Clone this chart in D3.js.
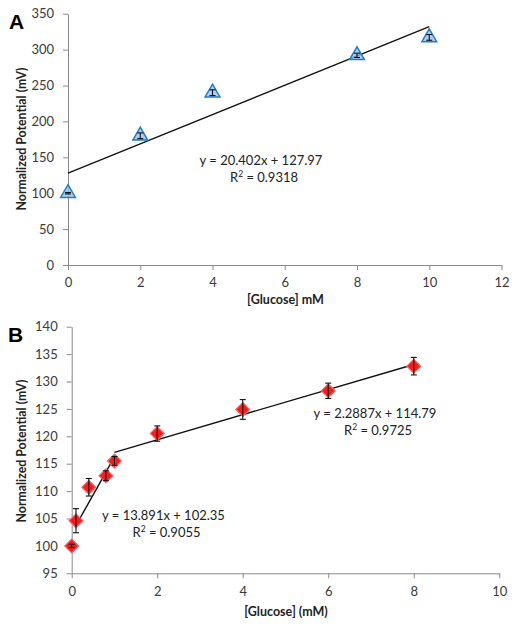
<!DOCTYPE html>
<html><head><meta charset="utf-8">
<script src="https://cdn.jsdelivr.net/npm/d3@7"></script>
<style>
body{margin:0;background:#fff;}
text{font-family:Lato,"Open Sans",sans-serif;}
</style></head>
<body>
<svg id="c" width="518" height="630"></svg>
<script>
// Panel A data
const aGlucose = [0, 2, 4, 8, 10];
const aPotential = [100, 180, 240, 292, 317];
const aError = [1, 4, 4, 3, 4];
const aXTicks = [0, 2, 4, 6, 8, 10, 12];
const aYTicks = [0, 50, 100, 150, 200, 250, 300, 350];
const aFit = {slope: 20.402, intercept: 127.97, from: 0, to: 10, eq: "y = 20.402x + 127.97", r2: "0.9318"};

// Panel B data
const bGlucose = [0, 0.1, 0.4, 0.8, 1, 2, 4, 6, 8];
const bPotential = [100, 104.6, 110.7, 112.8, 115.5, 120.5, 124.9, 128.3, 132.8];
const bError = [0.3, 2.2, 1.6, 0.9, 0.8, 1.4, 1.8, 1.4, 1.6];
const bXTicks = [0, 2, 4, 6, 8, 10];
const bYTicks = [95, 100, 105, 110, 115, 120, 125, 130, 135, 140];
const bFit1 = {slope: 13.891, intercept: 102.35, from: 0.1, to: 1, eq: "y = 13.891x + 102.35", r2: "0.9055"};
const bFit2 = {slope: 2.2887, intercept: 114.79, from: 1, to: 8, eq: "y = 2.2887x + 114.79", r2: "0.9725"};

const svg = d3.select("#c");
const axisColor = "#8a8a8a";
const textColor = "#3a3a3a";

function panel(cfg) {
  const g = svg.append("g");
  const x = d3.scaleLinear().domain(cfg.xDomain).range([cfg.left, cfg.right]);
  const y = d3.scaleLinear().domain(cfg.yDomain).range([cfg.bottom, cfg.top]);

  const xa = g.append("g").attr("transform", `translate(0,${cfg.bottom})`)
    .call(d3.axisBottom(x).tickValues(cfg.xTicks).tickSize(5).tickSizeOuter(0).tickPadding(8).tickFormat(d3.format("d")));
  const ya = g.append("g").attr("transform", `translate(${cfg.left},0)`)
    .call(d3.axisLeft(y).tickValues(cfg.yTicks).tickSize(5).tickSizeOuter(0).tickPadding(9).tickFormat(d3.format("d")));
  [xa, ya].forEach(a => {
    a.select(".domain").attr("stroke", axisColor);
    a.selectAll(".tick line").attr("stroke", axisColor);
    a.selectAll(".tick text").attr("fill", textColor).style("font-size", "13px").style("font-family", "Lato");
  });

  // axis titles
  g.append("text").attr("x", cfg.xTitleX).attr("y", cfg.xTitleY).attr("text-anchor", "middle")
    .style("font-size", "12.5px").style("font-weight", "bold").attr("fill", "#222").text(cfg.xTitle);
  g.append("text").attr("transform", `translate(${cfg.yTitleX},${cfg.yTitleY}) rotate(-90)`)
    .attr("text-anchor", "middle").style("font-size", "12.3px").style("font-weight", "bold").attr("fill", "#222").text(cfg.yTitle);
  // panel letter
  g.append("text").attr("x", cfg.letterX).attr("y", cfg.letterY)
    .style("font-size", "21px").style("font-weight", "bold").style("font-family", "Liberation Sans, Arial").attr("fill", "#000").text(cfg.letter);

  // fits
  cfg.fits.forEach(f => {
    g.append("line")
      .attr("x1", x(f.from)).attr("y1", y(f.slope * f.from + f.intercept))
      .attr("x2", x(f.to)).attr("y2", y(f.slope * f.to + f.intercept))
      .attr("stroke", "#111").attr("stroke-width", 1.4);
    const t = g.append("text").attr("text-anchor", "middle").attr("fill", "#222").style("font-size", "13px");
    t.append("tspan").attr("x", f.tx).attr("y", f.ty).text(f.eq);
    const t2 = t.append("tspan").attr("x", f.tx + 3).attr("y", f.ty + 16.5);
    t2.text("R");
    t2.append("tspan").attr("dy", -5).style("font-size", "8.5px").text("2");
    t2.append("tspan").attr("dy", 5).text(" = " + f.r2);
  });

  // markers
  const pts = cfg.xs.map((v, i) => ({x: v, y: cfg.ys[i], e: cfg.es[i]}));
  const mg = g.append("g");
  mg.selectAll("path.m").data(pts).join("path").attr("class", "m")
    .attr("d", cfg.symbol)
    .attr("transform", d => `translate(${x(d.x)},${y(d.y)})` + (cfg.rotate ? " rotate(45)" : ""))
    .attr("fill", cfg.fill).attr("stroke", cfg.stroke).attr("stroke-width", cfg.strokeWidth);

  // error bars
  const eg = g.append("g").attr("stroke", "#111").attr("stroke-width", 1.1);
  pts.forEach(d => {
    const cx = x(d.x), y1 = y(d.y + d.e), y2 = y(d.y - d.e);
    eg.append("line").attr("x1", cx).attr("x2", cx).attr("y1", y1).attr("y2", y2);
    eg.append("line").attr("x1", cx - 3).attr("x2", cx + 3).attr("y1", y1).attr("y2", y1);
    eg.append("line").attr("x1", cx - 3).attr("x2", cx + 3).attr("y1", y2).attr("y2", y2);
  });
}

panel({
  xDomain: [0, 12], yDomain: [0, 350], left: 68, right: 501.5, top: 13.7, bottom: 265,
  xTicks: aXTicks, yTicks: aYTicks,
  xTitle: "[Glucose] mM", xTitleX: 285.5, xTitleY: 304,
  yTitle: "Normalized Potential (mV)", yTitleX: 25.5, yTitleY: 139,
  letter: "A", letterX: 9, letterY: 28.5,
  fits: [Object.assign({tx: 261, ty: 165}, aFit)],
  xs: aGlucose, ys: aPotential, es: aError,
  symbol: d3.symbol(d3.symbolTriangle, 95)(), rotate: false,
  fill: "rgba(150,188,228,0.75)", stroke: "#1f7fcf", strokeWidth: 1.5
});

panel({
  xDomain: [0, 10], yDomain: [95, 140], left: 71.7, right: 499.3, top: 326.7, bottom: 573.3,
  xTicks: bXTicks, yTicks: bYTicks,
  xTitle: "[Glucose] (mM)", xTitleX: 286, xTitleY: 616,
  yTitle: "Normalized Potential (mV)", yTitleX: 25.5, yTitleY: 451,
  letter: "B", letterX: 8, letterY: 341.5,
  fits: [Object.assign({tx: 163.5, ty: 520}, bFit1), Object.assign({tx: 375, ty: 418}, bFit2)],
  xs: bGlucose, ys: bPotential, es: bError,
  symbol: d3.symbol(d3.symbolSquare, 95)(), rotate: true,
  fill: "#f01e1e", stroke: "#ff6060", strokeWidth: 1.2
});
</script>
</body></html>
